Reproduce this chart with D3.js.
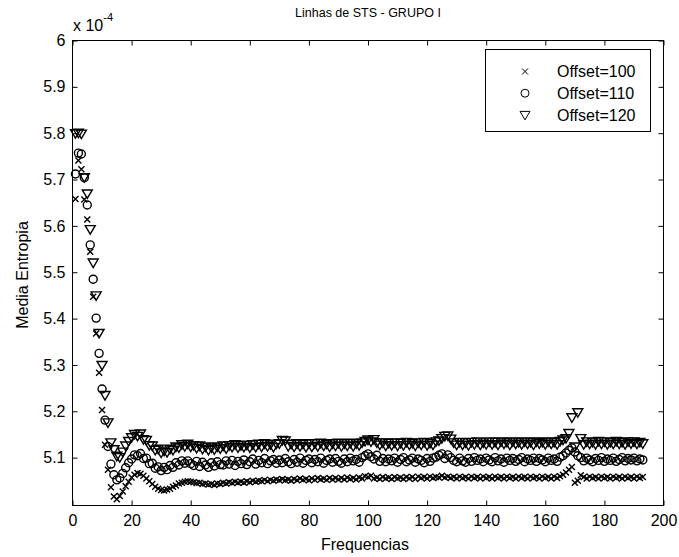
<!DOCTYPE html>
<html>
<head>
<meta charset="utf-8">
<script src="https://cdn.jsdelivr.net/npm/d3@7"></script>
<style>
  html, body { margin: 0; padding: 0; background: #fff; }
  svg { display: block; }
  text { font-family: "Liberation Sans", Arial, Helvetica, sans-serif; fill: #000; }
</style>
</head>
<body>
<svg id="chart" width="679" height="557"></svg>
<script>
// ---------- data (values in units of 1e-4) ----------
const titleText = "Linhas de STS - GRUPO I";
const xLabel = "Frequencias";
const yLabel = "Media Entropia";
const seriesNames = ["Offset=100", "Offset=110", "Offset=120"];
const xTicks = [0, 20, 40, 60, 80, 100, 120, 140, 160, 180, 200];
const yTicks = [5.1, 5.2, 5.3, 5.4, 5.5, 5.6, 5.7, 5.8, 5.9, 6.0];

const offset100 = [
  5.658, 5.741, 5.722, 5.657, 5.614, 5.544, 5.447, 5.368, 5.283, 5.203,
  5.128, 5.074, 5.036, 5.016, 5.010, 5.017, 5.027, 5.038, 5.048, 5.057,
  5.063, 5.067, 5.065, 5.061, 5.055, 5.049, 5.043, 5.037, 5.033, 5.030,
  5.029, 5.031, 5.033, 5.037, 5.040, 5.044, 5.046, 5.048, 5.049, 5.048,
  5.047, 5.045, 5.046, 5.043, 5.044, 5.042, 5.043, 5.041, 5.044, 5.043,
  5.046, 5.044, 5.047, 5.045, 5.048, 5.046, 5.048, 5.046, 5.049, 5.047,
  5.050, 5.048, 5.050, 5.049, 5.052, 5.049, 5.052, 5.050, 5.053, 5.051,
  5.054, 5.051, 5.053, 5.050, 5.054, 5.051, 5.055, 5.052, 5.054, 5.051,
  5.055, 5.052, 5.056, 5.053, 5.055, 5.052, 5.056, 5.053, 5.056, 5.053,
  5.056, 5.053, 5.057, 5.054, 5.056, 5.053, 5.057, 5.055, 5.060, 5.058,
  5.061, 5.055, 5.057, 5.054, 5.058, 5.055, 5.057, 5.054, 5.058, 5.055,
  5.057, 5.054, 5.058, 5.055, 5.058, 5.054, 5.059, 5.056, 5.058, 5.055,
  5.059, 5.056, 5.058, 5.057, 5.061, 5.057, 5.059, 5.056, 5.058, 5.055,
  5.059, 5.056, 5.058, 5.055, 5.059, 5.056, 5.058, 5.055, 5.059, 5.056,
  5.058, 5.055, 5.059, 5.056, 5.058, 5.055, 5.059, 5.056, 5.058, 5.055,
  5.059, 5.056, 5.058, 5.055, 5.059, 5.056, 5.058, 5.055, 5.059, 5.056,
  5.058, 5.055, 5.059, 5.056, 5.060, 5.063, 5.068, 5.074, 5.080, 5.046,
  5.050, 5.062, 5.058, 5.055, 5.059, 5.056, 5.058, 5.055, 5.059, 5.056,
  5.058, 5.055, 5.059, 5.056, 5.058, 5.055, 5.059, 5.056, 5.058, 5.055,
  5.059, 5.056, 5.058
];

const offset110 = [
  5.712, 5.757, 5.755, 5.704, 5.645, 5.559, 5.485, 5.401, 5.325, 5.248,
  5.181, 5.124, 5.086, 5.063, 5.052, 5.056, 5.066, 5.078, 5.089, 5.097,
  5.106, 5.104, 5.109, 5.098, 5.099, 5.087, 5.088, 5.077, 5.080, 5.072,
  5.079, 5.074, 5.083, 5.079, 5.089, 5.084, 5.093, 5.088, 5.093, 5.087,
  5.083, 5.092, 5.081, 5.090, 5.084, 5.079, 5.089, 5.082, 5.091, 5.085,
  5.084, 5.093, 5.086, 5.094, 5.083, 5.092, 5.087, 5.095, 5.085, 5.091,
  5.097, 5.086, 5.094, 5.089, 5.098, 5.087, 5.093, 5.096, 5.088, 5.095,
  5.089, 5.098, 5.091, 5.087, 5.096, 5.090, 5.099, 5.088, 5.094, 5.097,
  5.089, 5.096, 5.091, 5.099, 5.088, 5.094, 5.097, 5.090, 5.098, 5.092,
  5.088, 5.097, 5.091, 5.099, 5.093, 5.096, 5.090, 5.100, 5.104, 5.108,
  5.102, 5.097, 5.105, 5.092, 5.098, 5.091, 5.097, 5.093, 5.099, 5.090,
  5.096, 5.100, 5.091, 5.095, 5.099, 5.090, 5.097, 5.094, 5.089, 5.098,
  5.092, 5.099, 5.101, 5.105, 5.108, 5.098, 5.106, 5.100, 5.094, 5.091,
  5.099, 5.093, 5.090, 5.098, 5.092, 5.100, 5.094, 5.097, 5.091, 5.099,
  5.095, 5.091, 5.100, 5.093, 5.097, 5.090, 5.099, 5.094, 5.098, 5.092,
  5.096, 5.100, 5.091, 5.097, 5.094, 5.099, 5.092, 5.098, 5.095, 5.091,
  5.099, 5.094, 5.097, 5.092, 5.101, 5.104, 5.110, 5.116, 5.121, 5.112,
  5.104, 5.100, 5.093, 5.099, 5.095, 5.091, 5.098, 5.094, 5.100, 5.092,
  5.097, 5.094, 5.099, 5.092, 5.096, 5.100, 5.093, 5.098, 5.095, 5.099,
  5.093, 5.097, 5.095
];

const offset120 = [
  5.800, 5.801, 5.799, 5.705, 5.670, 5.593, 5.521, 5.450, 5.369, 5.300,
  5.235, 5.176, 5.133, 5.118, 5.104, 5.101, 5.113, 5.126, 5.136, 5.144,
  5.151, 5.147, 5.152, 5.140, 5.138, 5.127, 5.126, 5.117, 5.119, 5.111,
  5.115, 5.112, 5.119, 5.117, 5.124, 5.122, 5.129, 5.125, 5.130, 5.124,
  5.127, 5.121, 5.126, 5.119, 5.124, 5.117, 5.122, 5.118, 5.124, 5.120,
  5.126, 5.120, 5.127, 5.123, 5.129, 5.122, 5.127, 5.123, 5.128, 5.122,
  5.129, 5.123, 5.130, 5.124, 5.131, 5.125, 5.129, 5.123, 5.130, 5.131,
  5.138, 5.137, 5.125, 5.130, 5.124, 5.131, 5.125, 5.130, 5.123, 5.131,
  5.124, 5.131, 5.125, 5.132, 5.126, 5.130, 5.124, 5.131, 5.126, 5.132,
  5.125, 5.131, 5.126, 5.132, 5.125, 5.131, 5.127, 5.133, 5.136, 5.139,
  5.135, 5.140, 5.133, 5.128, 5.133, 5.126, 5.132, 5.127, 5.133, 5.126,
  5.132, 5.127, 5.134, 5.128, 5.132, 5.126, 5.133, 5.128, 5.134, 5.127,
  5.132, 5.128, 5.135, 5.137, 5.142, 5.147, 5.148, 5.141, 5.133, 5.128,
  5.134, 5.128, 5.133, 5.127, 5.134, 5.129, 5.135, 5.128, 5.133, 5.129,
  5.135, 5.129, 5.134, 5.128, 5.135, 5.130, 5.134, 5.128, 5.135, 5.130,
  5.134, 5.129, 5.135, 5.130, 5.134, 5.128, 5.135, 5.131, 5.134, 5.129,
  5.135, 5.130, 5.134, 5.129, 5.136, 5.139, 5.142, 5.153, 5.187, 5.124,
  5.198, 5.142, 5.129, 5.135, 5.130, 5.134, 5.129, 5.136, 5.130, 5.135,
  5.129, 5.134, 5.130, 5.136, 5.130, 5.134, 5.129, 5.135, 5.131, 5.135,
  5.130, 5.134, 5.131
];

const frequencies = d3.range(1, offset100.length + 1);

// ---------- layout ----------
(function draw() {
const svg = d3.select("#chart");
const W = 679, H = 557;
const mLeft = 72.5, mRight = 663.5, mTop = 40.5, mBottom = 505.5;

svg.append("rect").attr("width", W).attr("height", H).attr("fill", "#fff");

const x = d3.scaleLinear().domain([0, 200]).range([mLeft, mRight]);
const y = d3.scaleLinear().domain([4.9967, 6.0]).range([mBottom, mTop]);

const fontSize = 16;
const fmtY = d => String(+d.toFixed(1));

const gx = svg.append("g").attr("transform", `translate(0,${mBottom})`)
  .call(d3.axisBottom(x).tickValues(xTicks).tickSize(-5).tickPadding(9).tickFormat(d3.format("d")));
const gxt = svg.append("g").attr("transform", `translate(0,${mTop})`)
  .call(d3.axisTop(x).tickValues(xTicks).tickSize(-5).tickFormat(""));
const gy = svg.append("g").attr("transform", `translate(${mLeft},0)`)
  .call(d3.axisLeft(y).tickValues(yTicks).tickSize(-5).tickPadding(7).tickFormat(fmtY));
const gyr = svg.append("g").attr("transform", `translate(${mRight},0)`)
  .call(d3.axisRight(y).tickValues(yTicks).tickSize(-5).tickFormat(""));

[gx, gxt, gy, gyr].forEach(g => {
  g.select(".domain").remove();
  g.selectAll(".tick line").attr("stroke", "#000").attr("stroke-width", 1);
  g.selectAll(".tick text").attr("font-size", fontSize)
    .attr("font-family", '"Liberation Sans", Arial, sans-serif').attr("fill", "#000");
});

svg.append("rect").attr("x", mLeft).attr("y", mTop)
  .attr("width", mRight - mLeft).attr("height", mBottom - mTop)
  .attr("fill", "none").attr("stroke", "#000").attr("stroke-width", 1);

const markerPath = {
  x: "M-3,-3L3,3M-3,3L3,-3",
  o: "M4,0A4,4 0 1,1 -4,0A4,4 0 1,1 4,0Z",
  v: "M-5,-3.5L5,-3.5L0,5Z"
};
const series = [
  { name: seriesNames[0], values: offset100, m: "x" },
  { name: seriesNames[1], values: offset110, m: "o" },
  { name: seriesNames[2], values: offset120, m: "v" }
];

const plot = svg.append("g");
series.forEach(s => {
  plot.append("g").selectAll("path").data(frequencies).join("path")
    .attr("d", markerPath[s.m])
    .attr("transform", (f, i) => `translate(${x(f)},${y(s.values[i])})`)
    .attr("fill", "none").attr("stroke", "#000").attr("stroke-width", 1.4);
});

svg.append("text").attr("x", (mLeft + mRight) / 2).attr("y", 17)
  .attr("text-anchor", "middle").attr("font-size", 12.5).text(titleText);

const ex = svg.append("text").attr("x", 73).attr("y", 31).attr("font-size", fontSize);
ex.append("tspan").text("x 10");
ex.append("tspan").attr("font-size", 11).attr("dy", -10).text("-4");

svg.append("text").attr("x", 365).attr("y", 550)
  .attr("text-anchor", "middle").attr("font-size", fontSize).text(xLabel);
svg.append("text").attr("transform", "translate(27.5,275) rotate(-90)")
  .attr("text-anchor", "middle").attr("font-size", fontSize).text(yLabel);

const lg = svg.append("g");
lg.append("rect").attr("x", 485.5).attr("y", 49.5).attr("width", 165).attr("height", 82)
  .attr("fill", "#fff").attr("stroke", "#000").attr("stroke-width", 1);
series.forEach((s, i) => {
  const cy = 71.5 + i * 21.7;
  lg.append("path").attr("d", markerPath[s.m])
    .attr("transform", `translate(525,${cy})`)
    .attr("fill", "none").attr("stroke", "#000").attr("stroke-width", 1);
  lg.append("text").attr("x", 557).attr("y", cy + 5.8)
    .attr("font-size", fontSize).text(s.name);
});
})();
</script>
</body>
</html>
